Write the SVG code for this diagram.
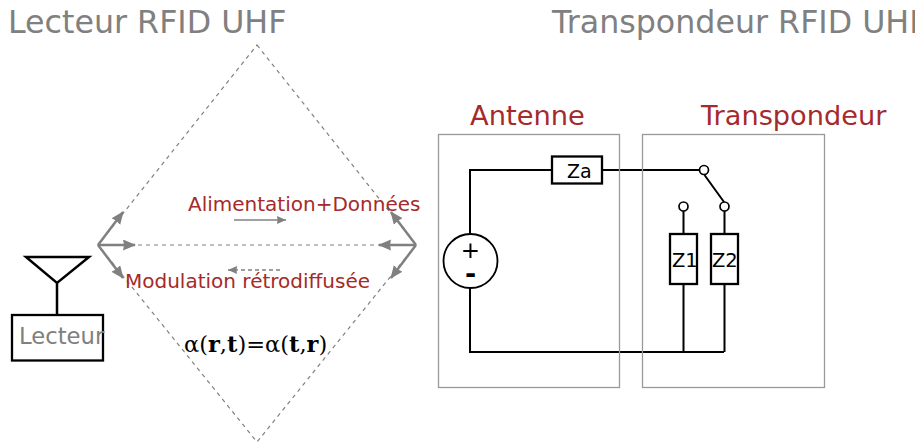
<svg xmlns="http://www.w3.org/2000/svg" width="919" height="444" viewBox="0 0 919 444">
<style>
text{font-family:"DejaVu Sans",sans-serif}
.title{font-size:31.700px;fill:#808080}
.red{fill:#a52a2a}
.k{fill:none;stroke:#000;stroke-width:2}
.box{fill:#fff;stroke:#000;stroke-width:2.300}
.frame{fill:none;stroke:#999;stroke-width:1.300}
.dash{fill:none;stroke:#808080;stroke-width:1.200;stroke-dasharray:4 4}
.g{fill:none;stroke:#808080;stroke-width:2.500}
</style>
<defs>
<clipPath id="page"><rect x="0" y="0" width="915" height="444"/></clipPath>
<marker id="a" markerUnits="userSpaceOnUse" markerWidth="14" markerHeight="12" refX="12" refY="5.500" orient="auto"><path d="M0 0L13 5.500L0 11L1 5.500Z" fill="#808080"/></marker>
<marker id="s" markerUnits="userSpaceOnUse" markerWidth="10" markerHeight="9" refX="9" refY="4" orient="auto"><path d="M0 0L9 4L0 8L.5 4Z" fill="#808080"/></marker>
</defs>
<g id="titles" clip-path="url(#page)">
<text class="title" x="8" y="33">Lecteur RFID UHF</text>
<text class="title" x="552" y="33">Transpondeur RFID UHF</text>
</g>
<g id="connectors">
<path class="dash" d="M257 45L416 245L257 442L98 245Z"/>
<path class="dash" d="M98 245H416"/>
<path class="g" d="M98 245L123 212" marker-end="url(#a)"/>
<path class="g" d="M98 245H135" marker-end="url(#a)"/>
<path class="g" d="M98 245L123 278" marker-end="url(#a)"/>
<path class="g" d="M416 245L391 212" marker-end="url(#a)"/>
<path class="g" d="M416 245H379" marker-end="url(#a)"/>
<path class="g" d="M416 245L391 278" marker-end="url(#a)"/>
<path fill="none" stroke="#808080" stroke-width="1.500" d="M234 220H286" marker-end="url(#s)"/>
<path fill="none" stroke="#808080" stroke-width="1.500" stroke-dasharray="4 3" d="M280 270H228" marker-end="url(#s)"/>
<path class="k" d="M470 234V170H552M602 170H700M470 288V352H724M683.500 352V284M724.500 352V284M683.500 234V211M724.500 234V211M704.500 175L724 202"/>
</g>
<g id="antenna-symbol">
<path class="k" style="stroke-width:2.500" d="M26 257H89L57 283ZM57 283V315"/>
</g>
<g id="lecteur">
<rect class="box" x="12" y="315" width="91" height="45.500"/>
<text x="19" y="344" font-size="22.700" fill="#808080">Lecteur</text>
</g>
<g id="labels">
<text class="red" x="188" y="211" font-size="20">Alimentation+Données</text>
<text class="red" x="125" y="288" font-size="20">Modulation rétrodiffusée</text>
<text x="184" y="352" font-size="22.500" style="font-family:'DejaVu Serif',serif">α(<tspan font-weight="bold">r</tspan>,<tspan font-weight="bold">t</tspan>)=α(<tspan font-weight="bold">t</tspan>,<tspan font-weight="bold">r</tspan>)</text>
</g>
<g id="antenne">
<rect class="frame" x="438.500" y="134.500" width="181" height="253"/>
<text class="red" x="470" y="125" font-size="27.300">Antenne</text>
</g>
<g id="transpondeur">
<rect class="frame" x="642.500" y="134.500" width="182" height="253"/>
<text class="red" x="701" y="125" font-size="27.200">Transpondeur</text>
</g>
<g id="source">
<circle cx="470.500" cy="261" r="27" fill="#fff" stroke="#000" stroke-width="1.800"/>
<text text-anchor="middle"><tspan x="470.500" y="258" font-size="23">+</tspan><tspan x="470.500" y="283" font-size="27" font-weight="bold">-</tspan></text>
</g>
<g id="za">
<rect class="box" x="552" y="156.500" width="50" height="27"/>
<text x="567" y="178" font-size="19">Za</text>
</g>
<g id="z1">
<rect class="box" x="670" y="234" width="27" height="50"/>
<text x="672" y="267" font-size="19.500">Z1</text>
</g>
<g id="z2">
<rect class="box" x="711" y="234" width="27" height="50"/>
<text x="712" y="267" font-size="19.500">Z2</text>
</g>
<g id="terminals">
<circle class="box" cx="704" cy="170" r="4.500" style="stroke-width:1.700"/>
<circle class="box" cx="683.500" cy="206.500" r="4.500" style="stroke-width:1.700"/>
<circle class="box" cx="724.500" cy="206.500" r="4.500" style="stroke-width:1.700"/>
</g>
</svg>
